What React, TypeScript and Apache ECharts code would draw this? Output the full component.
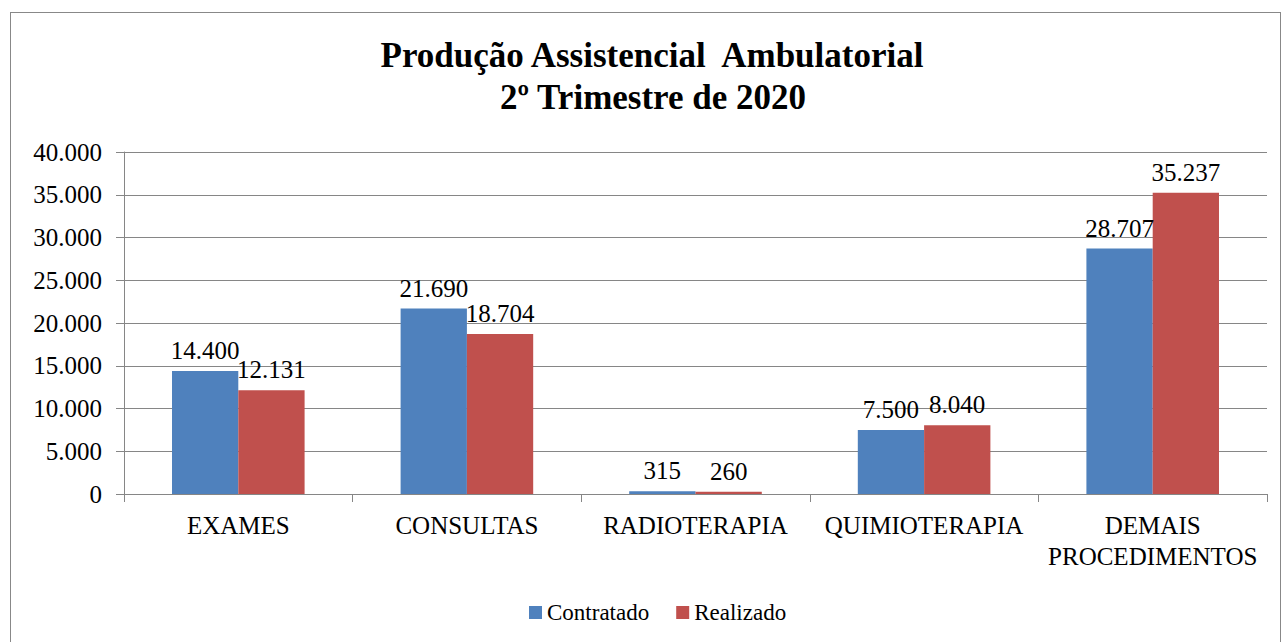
import React, { useEffect, useRef, useState } from "react";
import * as echarts from "echarts";

const categories = ["EXAMES", "CONSULTAS", "RADIOTERAPIA", "QUIMIOTERAPIA", "DEMAIS\nPROCEDIMENTOS"];
const contratado = [14400, 21690, 315, 7500, 28707];
const realizado = [12131, 18704, 260, 8040, 35237];
const seriesNames = ["Contratado", "Realizado"];
const titleLines = ["Produção Assistencial  Ambulatorial", "2º Trimestre de 2020"];

const FONT = "Liberation Serif";

function fmt(v: number): string {
  return String(Math.round(v)).replace(/\B(?=(\d{3})+(?!\d))/g, ".");
}

export default function App() {
  const ref = useRef<HTMLDivElement>(null);
  const [ready, setReady] = useState(0);
  useEffect(() => {
    if (!ref.current) return;
    const chart = echarts.init(ref.current, undefined, { renderer: "svg" });
    const labelStyle = {
      show: true,
      position: "top",
      distance: 8,
      color: "#000",
      fontFamily: FONT,
      fontSize: 25,
      formatter: (p: any) => fmt(p.value),
    };
    const titleStyle = (text: string) => ({
      text,
      fontFamily: FONT,
      fontWeight: "bold",
      fontSize: 35,
      fill: "#000",
      textAlign: "center",
      textVerticalAlign: "middle",
    });
    chart.setOption({
      animation: false,
      backgroundColor: "transparent",
      textStyle: { fontFamily: FONT },
      graphic: [
        { type: "text", x: 652, y: 55, style: titleStyle(titleLines[0]) },
        { type: "text", x: 653, y: 97, style: titleStyle(titleLines[1]) },
      ],
      legend: {
        data: seriesNames,
        left: 524,
        top: 596,
        itemWidth: 13,
        itemHeight: 13,
        itemGap: 27,
        icon: "rect",
        textStyle: { fontFamily: FONT, fontSize: 23, color: "#000" },
      },
      grid: { left: 124, right: 17, top: 152, bottom: 148 },
      xAxis: {
        type: "category",
        data: categories,
        axisLine: { show: true, lineStyle: { color: "#868686", width: 1 } },
        axisTick: { show: true, length: 8, lineStyle: { color: "#868686" } },
        axisLabel: { color: "#000", fontFamily: FONT, fontSize: 25, lineHeight: 31, margin: 16, interval: 0 },
      },
      yAxis: {
        type: "value",
        min: 0,
        max: 40000,
        interval: 5000,
        axisLine: { show: true, lineStyle: { color: "#868686", width: 1 } },
        axisTick: { show: true, length: 8, lineStyle: { color: "#868686" } },
        splitLine: { show: true, lineStyle: { color: "#868686", width: 1 } },
        axisLabel: { color: "#000", fontFamily: FONT, fontSize: 25, margin: 22, formatter: (v: number) => fmt(v) },
      },
      series: [
        { name: seriesNames[0], type: "bar", data: contratado, barWidth: "29%", barGap: "0%", itemStyle: { color: "#4F81BD" }, label: labelStyle },
        { name: seriesNames[1], type: "bar", data: realizado, barWidth: "29%", barGap: "0%", itemStyle: { color: "#C0504D" }, label: labelStyle },
      ],
    });
    const n = Array.from(ref.current.querySelectorAll("text")).map((t) => getComputedStyle(t).fontFamily).length;
    setReady(n);
    return () => chart.dispose();
  }, []);
  return (
    <div data-ready={ready}>
      <div ref={ref} style={{ position: "absolute", left: 0, top: 0, width: 1284, height: 642, background: "#fff" }} />
      <div
        style={{
          position: "absolute",
          left: 10,
          top: 12,
          width: 1271,
          height: 700,
          border: "1.5px solid #888",
          boxSizing: "border-box",
          pointerEvents: "none",
        }}
      />
    </div>
  );
}
